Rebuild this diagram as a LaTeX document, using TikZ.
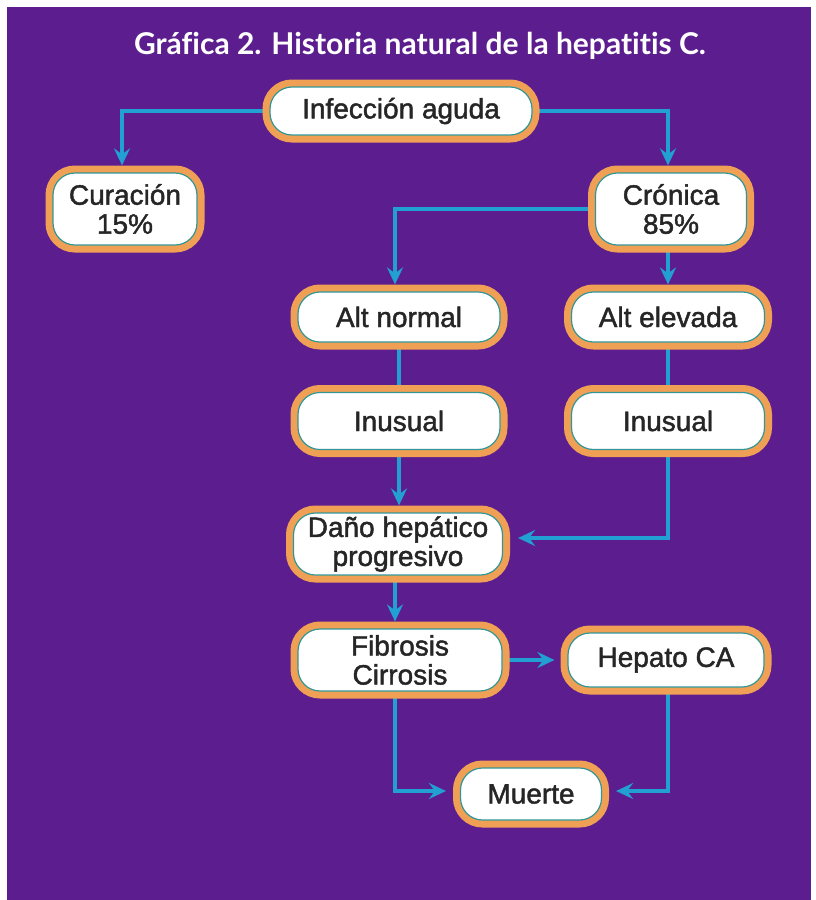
\documentclass[tikz,border=0pt]{standalone}
\usepackage{fontspec}
\setmainfont[AutoFakeBold=1.6]{Liberation Sans}
\newfontfamily\boxfont[FakeBold=1.6]{Liberation Sans}
\newfontfamily\titlefont[Ligatures=NoCommon]{Lato}
\usetikzlibrary{arrows.meta,backgrounds}
\definecolor{bgpurple}{RGB}{92,30,142}
\definecolor{ringorange}{RGB}{240,160,85}
\definecolor{ringteal}{RGB}{50,150,150}
\definecolor{arrowblue}{RGB}{34,160,212}
\definecolor{txtgray}{RGB}{38,38,38}
\tikzset{
  box/.style={preaction={draw=ringorange,line width=15pt},
    draw=ringteal, line width=1.2pt, fill=white,
    rounded corners=22pt, inner sep=0pt, align=center,
    text=txtgray, font=\boxfont\fontsize{28}{29}\selectfont},
  conn/.style={draw=arrowblue, line width=3.8pt},
  arr/.style={conn, -{Stealth[length=17pt,width=16pt,inset=6pt]}},
}
\begin{document}
\begin{tikzpicture}[x=1pt,y=-1pt]
\useasboundingbox (0,0) rectangle (816,900);
% nodes
\node[box, minimum width=262pt, minimum height=48pt] (inf) at (401,111) {Infección aguda};
\node[box, minimum width=144pt, minimum height=72pt] (cur) at (125,209) {Curación\\15\%};
\node[box, minimum width=151pt, minimum height=72pt] (cro) at (671,209) {Crónica\\85\%};
\node[box, minimum width=202pt, minimum height=50pt] (altn) at (399,317) {Alt normal};
\node[box, minimum width=193pt, minimum height=50pt] (alte) at (668,317) {Alt elevada};
\node[box, minimum width=202pt, minimum height=57pt] (inu1) at (399,421) {Inusual};
\node[box, minimum width=193pt, minimum height=57pt] (inu2) at (668,421) {Inusual};
\node[box, minimum width=209pt, minimum height=62pt] (dano) at (398,544) {Daño hepático\\progresivo};
\node[box, minimum width=204pt, minimum height=62pt] (fib) at (400,660) {Fibrosis\\Cirrosis};
\node[box, minimum width=196pt, minimum height=54pt] (hep) at (666,660) {Hepato CA};
\node[box, minimum width=141pt, minimum height=52pt] (mue) at (531,794) {Muerte};
\node[text=white, font=\titlefont\bfseries\fontsize{30}{32}\selectfont] (title) at (420,46) {Gráfica 2. Historia natural de la hepatitis C.};
\begin{scope}[on background layer]
\fill[white] (0,0) rectangle (816,900);
\fill[bgpurple] (7,7) rectangle (811,900);
\draw[arr, shorten >=7pt] (inf.west) -| ([xshift=-3pt]cur.north);
\draw[arr, shorten >=7pt] (inf.east) -| ([xshift=-3pt]cro.north);
\draw[arr, shorten >=7pt] (cro.west) -| ([xshift=-4pt]altn.north);
\draw[arr, shorten >=7pt] (alte.north |- cro.south) -- (alte.north);
\draw[conn] (altn.south) -- (inu1.north);
\draw[conn] (alte.south) -- (inu2.north);
\draw[arr, shorten >=7pt] (inu1.south) -- (inu1.south |- dano.north);
\draw[arr, shorten >=15pt] (inu2.south) |- ([yshift=6pt]dano.east);
\draw[arr, shorten >=7pt] ([xshift=-3pt]dano.south) -- ([xshift=-3pt]dano.south |- fib.north);
\draw[arr, shorten >=13pt] (fib.east) -- (hep.west);
\draw[arr, shorten >=14pt] ([xshift=-5pt]fib.south) |- ([yshift=3pt]mue.west);
\draw[arr, shorten >=14pt] ([xshift=2pt]hep.south) |- ([yshift=3pt]mue.east);
\end{scope}
\end{tikzpicture}
\end{document}
